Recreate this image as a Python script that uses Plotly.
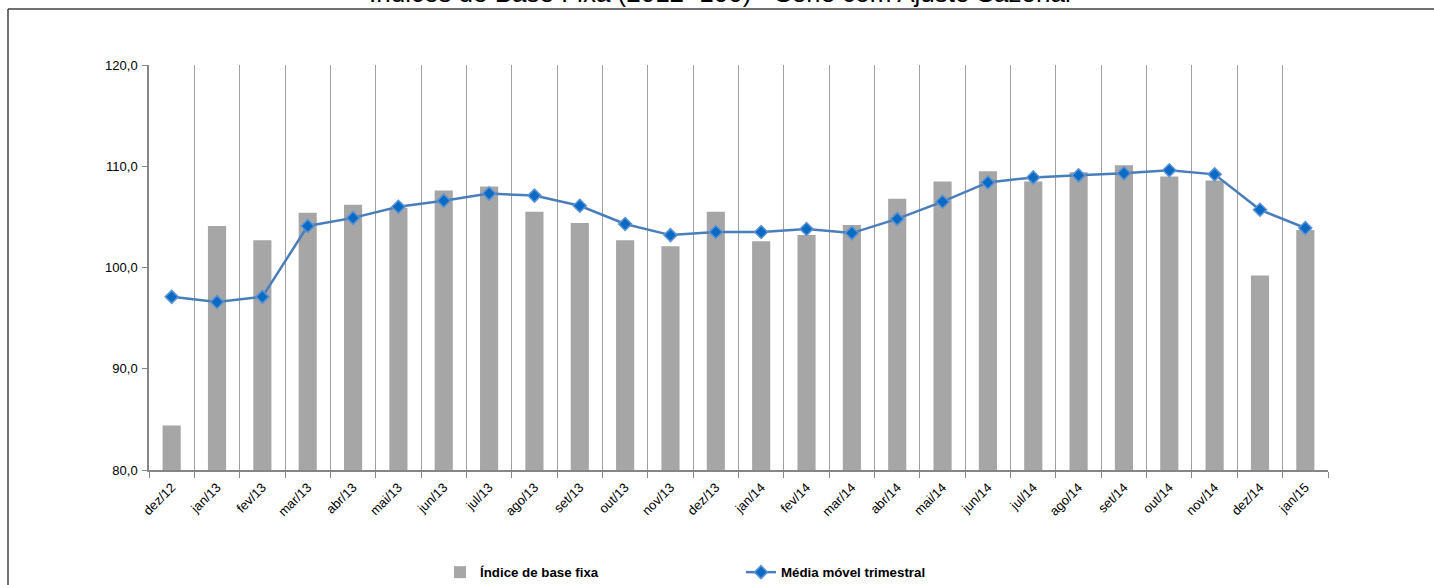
import plotly.graph_objects as go

categories = ["dez/12", "jan/13", "fev/13", "mar/13", "abr/13", "mai/13", "jun/13", "jul/13",
              "ago/13", "set/13", "out/13", "nov/13", "dez/13", "jan/14", "fev/14", "mar/14",
              "abr/14", "mai/14", "jun/14", "jul/14", "ago/14", "set/14", "out/14", "nov/14",
              "dez/14", "jan/15"]

indice_base_fixa = [84.4, 104.1, 102.7, 105.4, 106.2, 105.9, 107.6, 108.0,
                    105.5, 104.4, 102.7, 102.1, 105.5, 102.6, 103.2, 104.2,
                    106.8, 108.5, 109.5, 108.5, 109.4, 110.1, 109.0, 108.6,
                    99.2, 103.7]

media_movel = [97.1, 96.6, 97.1, 104.1, 104.9, 106.0, 106.6, 107.3,
               107.1, 106.1, 104.3, 103.2, 103.5, 103.5, 103.8, 103.4,
               104.8, 106.5, 108.4, 108.9, 109.1, 109.3, 109.6, 109.2,
               105.7, 103.9]

y_ticks = [80, 90, 100, 110, 120]
y_tick_labels = ["80,0", "90,0", "100,0", "110,0", "120,0"]

title_text = "Índices de Base Fixa (2012=100) - Série com Ajuste Sazonal"

W, H = 1434, 585
L, R, T, B = 149, 1328, 65, 470


def px_x(p):
    return (p - L) / (R - L)


def px_y(p):
    return (B - p) / (B - T)


fig = go.Figure()
fig.add_trace(go.Bar(
    x=categories, y=indice_base_fixa, name="Índice de base fixa",
    marker=dict(color="#A6A6A6", line=dict(width=0)),
))
fig.add_trace(go.Scatter(
    x=categories, y=media_movel, name="Média móvel trimestral", mode="lines+markers",
    line=dict(color="#4A7EBB", width=2.5),
    marker=dict(symbol="diamond", size=10, color="#0B6BC4",
                line=dict(color="#5B93D3", width=1.5)),
))

font_main = "Liberation Sans, Arial, sans-serif"

fig.update_layout(
    width=W, height=H,
    margin=dict(l=L, r=W - R, t=T, b=H - B, pad=0, autoexpand=False),
    paper_bgcolor="white", plot_bgcolor="white",
    bargap=0.6,
    separators=",.",
    font=dict(family=font_main, size=13, color="#000000"),
    showlegend=True,
    legend=dict(
        orientation="h", x=px_x(440), xref="paper", y=1 - 557 / H, yref="container",
        xanchor="left", yanchor="top",
        font=dict(family=font_main, size=13.3, color="#000000", weight="bold"),
        entrywidth=256, entrywidthmode="pixels", traceorder="normal",
        bgcolor="rgba(0,0,0,0)",
    ),
    xaxis=dict(
        type="category", range=[-0.5, len(categories) - 0.5], autorange=False,
        tickson="boundaries", showgrid=True, gridcolor="#A0A0A0", gridwidth=1,
        showline=True, linecolor="#868686", linewidth=1.5,
        ticks="outside", ticklen=6, tickcolor="#868686", tickwidth=1,
        tickangle=-45, tickfont=dict(family=font_main, size=13, color="#000000"),
        ticklabelstandoff=3, mirror=False,
    ),
    yaxis=dict(
        range=[80, 120], autorange=False, tickvals=y_ticks, ticktext=y_tick_labels, showgrid=False,
        showline=True, linecolor="#868686", linewidth=1.5,
        ticks="outside", ticklen=5, tickcolor="#868686", tickwidth=1,
        tickfont=dict(family=font_main, size=13, color="#000000"),
        ticklabelstandoff=2, zeroline=False,
    ),
    annotations=[dict(
        text=title_text, xref="paper", yref="paper", x=px_x(720), y=px_y(-7),
        xanchor="center", yanchor="middle", showarrow=False,
        font=dict(family=font_main, size=26, color="#000000"),
    )],
    shapes=[
        dict(type="line", xref="paper", yref="paper", x0=px_x(8), x1=px_x(1440),
             y0=px_y(9), y1=px_y(9), line=dict(color="#404040", width=1.5)),
        dict(type="line", xref="paper", yref="paper", x0=px_x(8), x1=px_x(8),
             y0=px_y(9), y1=px_y(590), line=dict(color="#404040", width=1.5)),
    ],
)

fig.write_html("out.html")
